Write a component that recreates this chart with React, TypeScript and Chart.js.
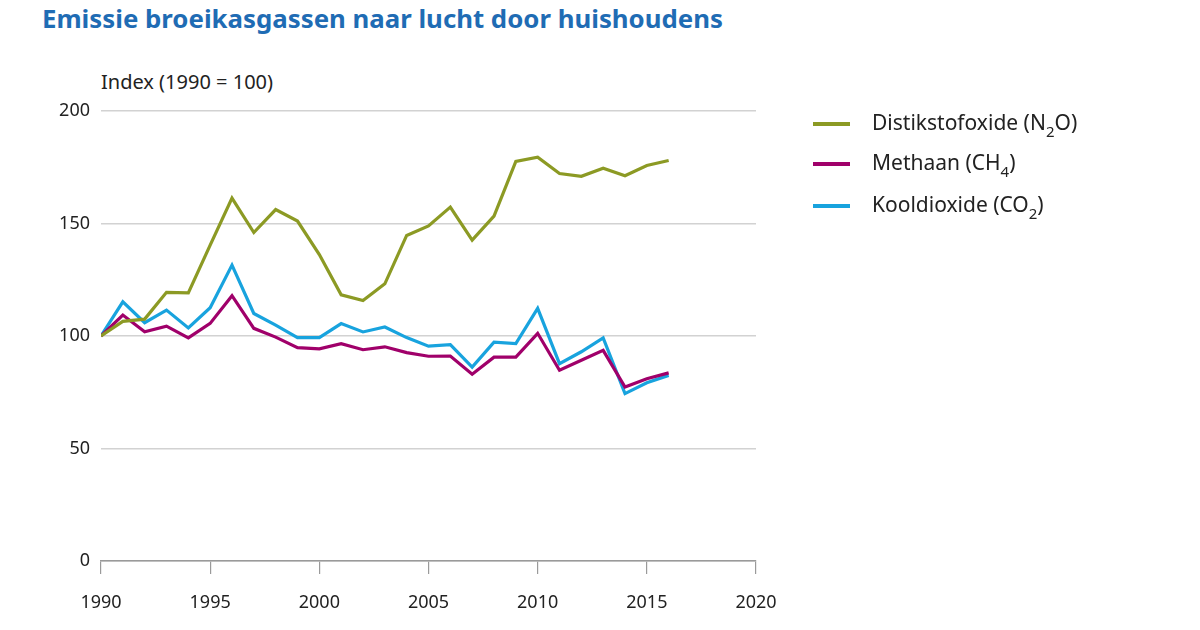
import React, { useEffect, useRef } from "react";
import { Chart, registerables } from "chart.js";

Chart.register(...registerables);

const years = [1990, 1991, 1992, 1993, 1994, 1995, 1996, 1997, 1998, 1999, 2000, 2001, 2002, 2003, 2004, 2005, 2006, 2007, 2008, 2009, 2010, 2011, 2012, 2013, 2014, 2015, 2016];
const n2o = [100, 106.5, 107.5, 119.4, 119.2, 140.4, 161.3, 146, 156.2, 151.1, 136.2, 118.3, 115.8, 123.2, 144.7, 148.9, 157.3, 142.6, 153.3, 177.6, 179.5, 172.2, 171, 174.6, 171.2, 175.8, 178];
const ch4 = [100, 109.3, 101.9, 104.4, 99.2, 105.6, 117.9, 103.4, 99.5, 94.8, 94.3, 96.6, 93.9, 95.2, 92.6, 91, 91.1, 83, 90.6, 90.6, 101.2, 84.8, 89.2, 93.6, 77.3, 81, 83.6];
const co2 = [100, 115.2, 105.9, 111.5, 103.6, 112.6, 131.5, 110, 104.8, 99.3, 99.3, 105.5, 101.8, 104, 99.3, 95.5, 96.2, 86.2, 97.3, 96.6, 112.3, 87.7, 93, 99.2, 74.4, 79.2, 82.5];
const yTicks = [0, 50, 100, 150, 200];
const xTicks = [1990, 1995, 2000, 2005, 2010, 2015, 2020];

const seriesNames = ["Distikstofoxide", "Methaan", "Kooldioxide"];
const colors = ["#8c9a24", "#a0006a", "#18a3de"];

const FONT = "'Noto Sans', sans-serif";

export default function App() {
  const ref = useRef<HTMLCanvasElement | null>(null);

  useEffect(() => {
    if (!ref.current) return;
    const mk = (vals: number[]) => years.map((y, i) => ({ x: y, y: vals[i] }));
    const chart = new Chart(ref.current, {
      type: "line",
      data: {
        datasets: [
          { label: seriesNames[0], data: mk(n2o), borderColor: colors[0] },
          { label: seriesNames[1], data: mk(ch4), borderColor: colors[1] },
          { label: seriesNames[2], data: mk(co2), borderColor: colors[2] },
        ].map((d) => ({ ...d, borderWidth: 3.2, pointRadius: 0, tension: 0, fill: false, borderJoinStyle: "miter" as const })),
      },
      options: {
        animation: false,
        responsive: false,
        maintainAspectRatio: false,
        layout: { padding: { left: 41, top: 111, right: 444, bottom: 0 } },
        plugins: { legend: { display: false }, tooltip: { enabled: false } },
        scales: {
          x: {
            type: "linear",
            min: 1990,
            max: 2020,
            afterBuildTicks: (s: any) => {
              s.ticks = xTicks.map((v) => ({ value: v }));
            },
            afterFit: (s: any) => {
              s.height = 69;
            },
            border: { display: true, color: "#9a9a9a", width: 1.5 },
            grid: { drawOnChartArea: false, drawTicks: true, tickLength: 13, color: "#9a9a9a", lineWidth: 1.2 },
            ticks: {
              callback: (v: any) => String(v),
              color: "#222",
              font: { family: FONT, size: 18 },
              padding: 18,
              maxRotation: 0,
              autoSkip: false,
            },
          },
          y: {
            min: 0,
            max: 200,
            afterBuildTicks: (s: any) => {
              s.ticks = yTicks.map((v) => ({ value: v }));
            },
            afterFit: (s: any) => {
              s.width = 60;
            },
            border: { display: false },
            grid: { drawTicks: false, color: "#d2d2d2", lineWidth: 1.6 },
            ticks: {
              color: "#222",
              font: { family: FONT, size: 18 },
              padding: 11,
            },
          },
        },
      },
    });
    return () => chart.destroy();
  }, []);

  const legendItems = [
    { name: "Distikstofoxide (N", sub: "2", tail: "O)", color: colors[0], top: 111 },
    { name: "Methaan (CH", sub: "4", tail: ")", color: colors[1], top: 151 },
    { name: "Kooldioxide (CO", sub: "2", tail: ")", color: colors[2], top: 193 },
  ];

  return (
    <div style={{ position: "absolute", left: 0, top: 0, width: 1200, height: 630, background: "#fff", fontFamily: FONT, color: "#222" }}>
      <div style={{ position: "absolute", left: 42, top: 0, fontSize: 25.8, fontWeight: 700, color: "#1f6cb4", whiteSpace: "nowrap" }}>
        Emissie broeikasgassen naar lucht door huishoudens
      </div>
      <div style={{ position: "absolute", left: 101, top: 68, fontSize: 20, whiteSpace: "nowrap" }}>Index (1990 = 100)</div>
      <canvas ref={ref} width={1200} height={630} style={{ position: "absolute", left: 0, top: 0, width: 1200, height: 630 }} />
      {legendItems.map((it) => (
        <div key={it.name} style={{ position: "absolute", left: 813, top: it.top, height: 26, display: "flex", alignItems: "center", whiteSpace: "nowrap", fontSize: 21 }}>
          <div style={{ width: 37, height: 3.5, background: it.color, marginRight: 22 }} />
          <span>
            {it.name}
            <sub style={{ fontSize: 15, verticalAlign: "-7px" }}>{it.sub}</sub>
            {it.tail}
          </span>
        </div>
      ))}
    </div>
  );
}
